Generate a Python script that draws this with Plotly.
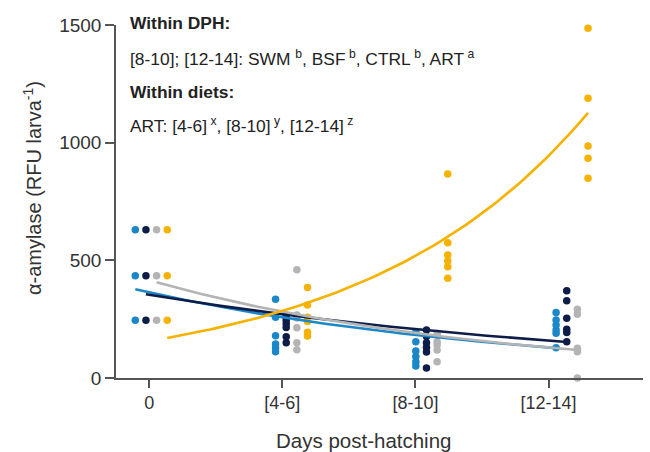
import plotly.graph_objects as go
import numpy as np

# ---- data ----
categories = ["0", "[4-6]", "[8-10]", "[12-14]"]
diets = ["SWM", "BSF", "CTRL", "ART"]

swm = [[630, 435, 245], [335, 258, 180, 145, 128, 112], [197, 154, 115, 91, 69, 51], [278, 246, 225, 204, 190, 129]]
bsf = [[630, 435, 245], [260, 245, 230, 215, 175, 150], [204, 176, 150, 130, 110, 42], [371, 328, 254, 207, 193, 154]]
ctrl = [[630, 435, 245], [460, 268, 255, 214, 150, 120], [190, 183, 154, 140, 119, 69], [292, 271, 126, 118, 112, 0]]
art = [[630, 435, 245], [385, 310, 258, 240, 194, 178], [867, 575, 523, 497, 473, 424], [1486, 1189, 986, 934, 849]]

# exponential fit curves: fitted value at first and last sampling point
fit_start = [377, 356, 407, 170]
fit_end = [127, 153, 119, 1127]

y_ticks = [0, 500, 1000, 1500]

# ---- style ----
colors = ["#1a87c9", "#0e1c48", "#b4b4b4", "#f6b200"]
offsets = [-0.105, -0.025, 0.055, 0.135]
step = 1.054
FONT = "Liberation Sans, Arial, sans-serif"

series = [swm, bsf, ctrl, art]
fig = go.Figure()

for s, vals in enumerate(series):
    xs, ys = [], []
    for k, group in enumerate(vals):
        for v in group:
            xs.append(k * step + offsets[s])
            ys.append(v)
    fig.add_trace(go.Scatter(x=xs, y=ys, mode="markers", name=diets[s],
                             marker=dict(color=colors[s], size=7.5, line=dict(width=0)),
                             cliponaxis=False, showlegend=False))

for s in range(4):
    x0 = offsets[s]
    x1 = 3 * step + offsets[s]
    xc = np.linspace(x0, x1, 80)
    yc = fit_start[s] * (fit_end[s] / fit_start[s]) ** ((xc - x0) / (x1 - x0))
    fig.add_trace(go.Scatter(x=xc, y=yc, mode="lines", line=dict(color=colors[s], width=2.6),
                             showlegend=False, hoverinfo="skip", cliponaxis=False))

axis_color = "#555555"
fig.update_layout(
    width=650, height=452,
    margin=dict(l=116, r=7, t=25, b=74),
    plot_bgcolor="white", paper_bgcolor="white",
    font=dict(family=FONT, color="#222222"),
    xaxis=dict(range=[-0.25, 3.71], tickmode="array", tickvals=[0, 1, 2, 3], ticktext=categories,
               showline=True, linecolor=axis_color, linewidth=1.5, ticks="outside", ticklen=8,
               tickwidth=1.5, tickcolor=axis_color, showgrid=False, zeroline=False,
               tickfont=dict(size=18, color="#333333")),
    yaxis=dict(range=[0, 1500], tickmode="array", tickvals=y_ticks,
               showline=True, linecolor=axis_color, linewidth=1.5, ticks="outside", ticklen=9,
               tickwidth=1.5, tickcolor=axis_color, showgrid=False, zeroline=False,
               tickfont=dict(size=19, color="#333333")),
)

ann = [
    dict(text="<b>Within DPH:</b>", y=1.005),
    dict(text="[8-10]; [12-14]: SWM <sup>b</sup>, BSF<sup> b</sup>, CTRL<sup> b</sup>, ART<sup> a</sup>", y=0.907),
    dict(text="<b>Within diets:</b>", y=0.81),
    dict(text="ART: [4-6]<sup> x</sup>, [8-10]<sup> y</sup>, [12-14]<sup> z</sup>", y=0.718),
]
for a in ann:
    fig.add_annotation(text=a["text"], xref="paper", yref="paper", x=0.022, y=a["y"],
                       xanchor="left", yanchor="middle", showarrow=False,
                       font=dict(size=17.4, color="#222222", family=FONT))

fig.add_annotation(text="α-amylase (RFU larva<sup>-1</sup>)", xref="paper", yref="paper",
                   x=(32 - 116) / 527, y=0.538, textangle=-90, xanchor="center", yanchor="middle",
                   showarrow=False, font=dict(size=20, color="#333333", family=FONT))
fig.add_annotation(text="Days post-hatching", xref="paper", yref="paper",
                   x=(363 - 116) / 527, y=-(440 - 378) / 353, xanchor="center", yanchor="middle",
                   showarrow=False, font=dict(size=20.5, color="#333333", family=FONT))

fig.write_html("out.html", config={"displayModeBar": False},
               post_script="document.body.style.margin='0';document.body.style.padding='0';")
